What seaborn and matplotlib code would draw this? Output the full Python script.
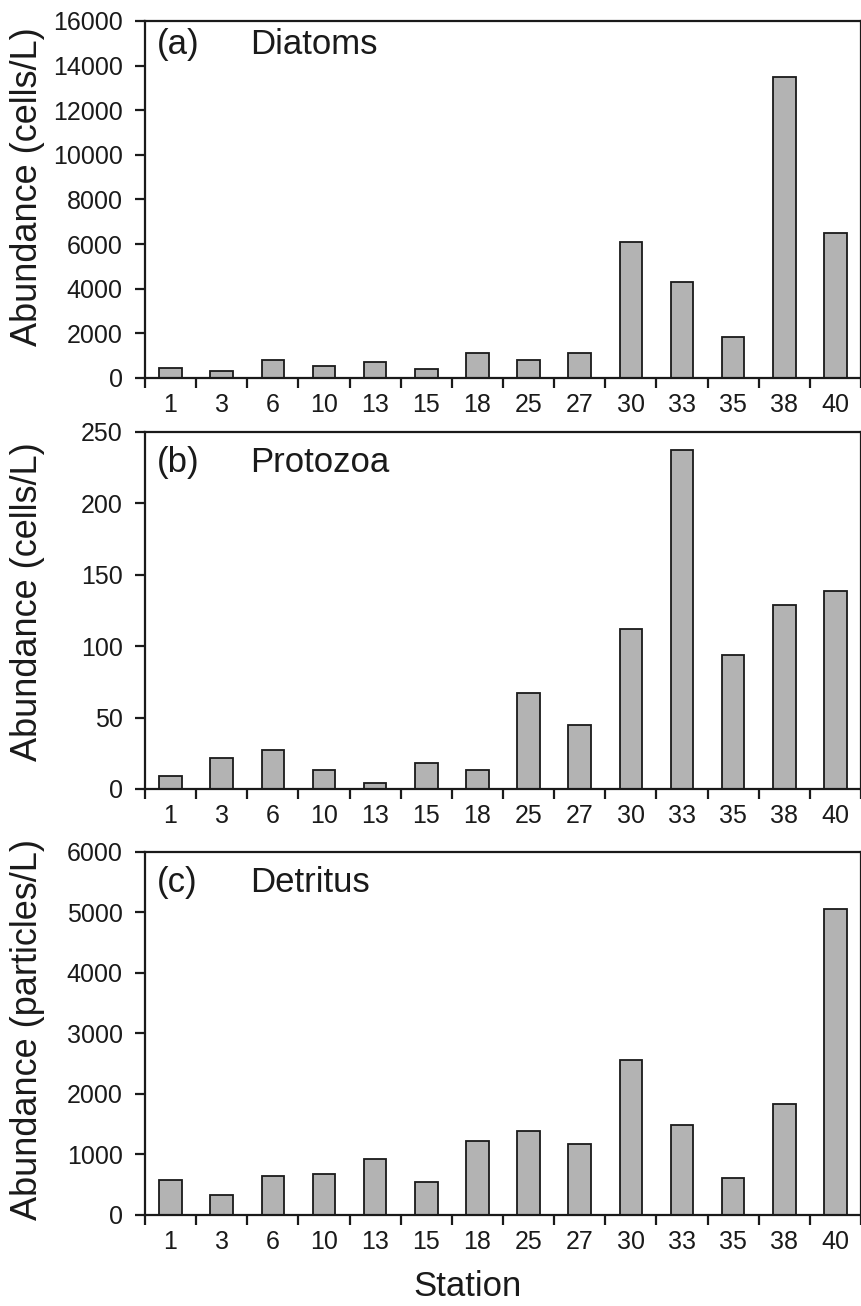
import numpy as np
import pandas as pd
import matplotlib
matplotlib.use("Agg")
import matplotlib.pyplot as plt
import seaborn as sns
from matplotlib.ticker import FixedLocator, MultipleLocator

# ---- data ----
stations = ["1", "3", "6", "10", "13", "15", "18", "25", "27", "30", "33", "35", "38", "40"]
diatoms = [450, 300, 820, 520, 720, 400, 1120, 820, 1120, 6100, 4300, 1850, 13500, 6500]
protozoa = [9, 22, 27.5, 13.5, 4.2, 18, 13.5, 67, 45, 112, 237, 94, 129, 138.5]
detritus = [580, 330, 640, 680, 917, 552, 1220, 1380, 1177, 2558, 1480, 608, 1840, 5060]
panel_tags = ["(a)", "(b)", "(c)"]
panel_names = ["Diatoms", "Protozoa", "Detritus"]
y_labels = ["Abundance (cells/L)", "Abundance (cells/L)", "Abundance (particles/L)"]
y_max = [16000, 250, 6000]
y_step = [2000, 50, 1000]
x_label = "Station"

series = [diatoms, protozoa, detritus]

# ---- style ----
sns.set_theme(style="ticks")
plt.rcParams['font.family'] = ['Liberation Sans', 'DejaVu Sans']

fig = plt.figure(figsize=(8.62, 13.06), dpi=100)
rects = [[0.1682, 0.7106, 0.8306, 0.2734],
         [0.1682, 0.3959, 0.8306, 0.2734],
         [0.1682, 0.0697, 0.8306, 0.2780]]
tag_y = [0.933, 0.913, 0.917]
ylab_y = [0.535, 0.525, 0.51]

edge = "#1a1a1a"
for i in range(3):
    ax = fig.add_axes(rects[i])
    df = pd.DataFrame({"Station": stations, "Abundance": series[i]})
    sns.barplot(data=df, x="Station", y="Abundance", order=stations,
                color="#b3b3b3", saturation=1, edgecolor=edge,
                linewidth=1.3, width=0.44, ax=ax)
    ax.set_xlim(-0.5, len(stations) - 0.5)
    ax.set_ylim(0, y_max[i])
    ax.yaxis.set_major_locator(MultipleLocator(y_step[i]))
    ax.xaxis.set_minor_locator(FixedLocator(np.arange(-0.5, len(stations), 1.0)))
    ax.tick_params(axis='x', which='major', length=0, pad=11, labelsize=18, colors=edge)
    ax.tick_params(axis='x', which='minor', length=7, width=1.6, direction='out', color=edge)
    ax.tick_params(axis='y', which='major', length=7, width=1.6, direction='out',
                   pad=9, labelsize=18, colors=edge)
    for sp in ax.spines.values():
        sp.set_visible(True)
        sp.set_linewidth(1.6)
        sp.set_color(edge)
    ax.set_ylabel(y_labels[i], fontsize=26, color=edge)
    ax.yaxis.set_label_coords(-0.14, ylab_y[i])
    if i == 2:
        ax.set_xlabel(x_label, fontsize=25, color=edge)
        ax.xaxis.label.set_va('center')
        ax.xaxis.set_label_coords(0.45, -0.198)
    else:
        ax.set_xlabel("")
    ax.text(0.017, tag_y[i], panel_tags[i], transform=ax.transAxes,
            fontsize=25, ha='left', va='center', color=edge)
    ax.text(0.147, tag_y[i], panel_names[i], transform=ax.transAxes,
            fontsize=25, ha='left', va='center', color=edge)

fig.savefig("out.png", dpi=100)
